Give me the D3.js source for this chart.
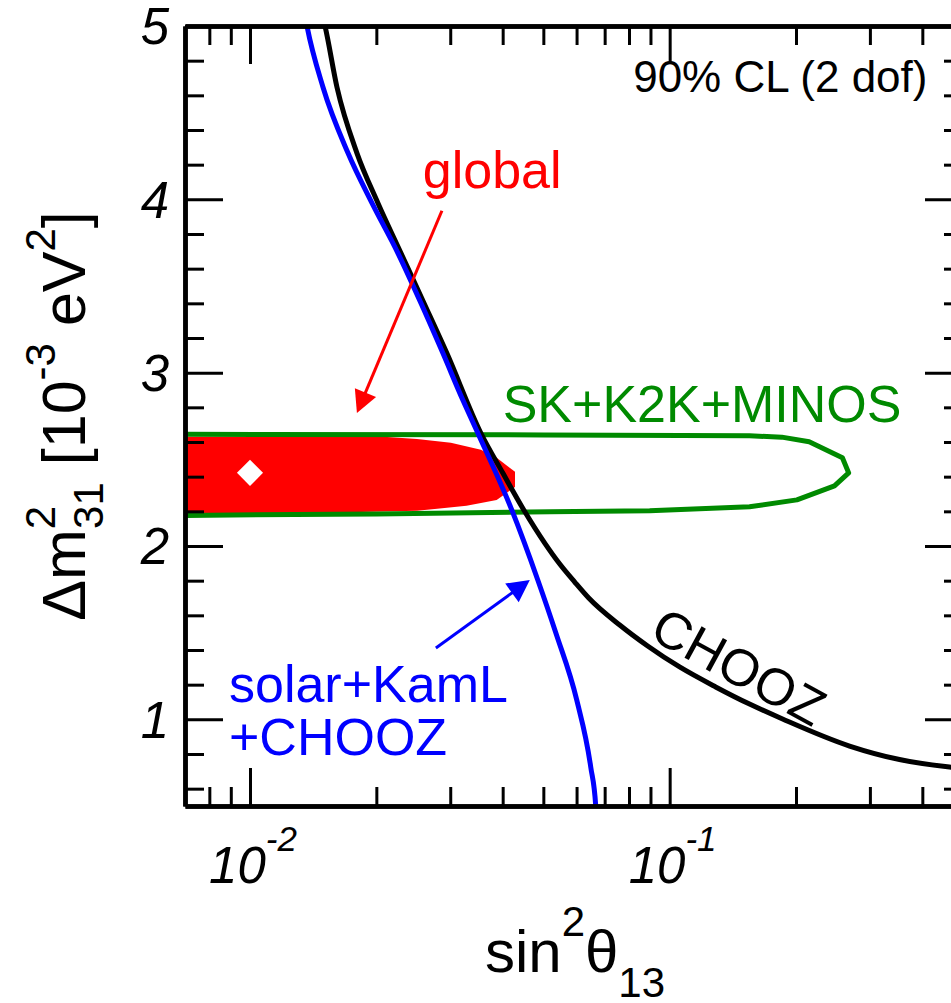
<!DOCTYPE html>
<html><head><meta charset="utf-8">
<script src="https://cdn.jsdelivr.net/npm/d3@7"></script>
<style>body{margin:0;background:#fff}svg{display:block}</style>
</head><body>
<svg id="c" width="951" height="1003"></svg>
<script>
// ---- data (sin^2 theta13, dm^2_31 [1e-3 eV^2]) ----
const xMajorTicks = [0.01, 0.1];
const xMajorLabels = ["-2", "-1"];
const xMinorTicks = [0.008,0.009,0.02,0.03,0.04,0.05,0.06,0.07,0.08,0.09,0.2,0.3,0.4];
const yMajorTicks = [1,2,3,4,5];
const yMinorTicks = [0.6,0.8,1.2,1.4,1.6,1.8,2.2,2.4,2.6,2.8,3.2,3.4,3.6,3.8,4.2,4.4,4.6,4.8];

const globalRegion = [[0.005,2.630],[0.0208,2.630],[0.0250,2.618],[0.0301,2.595],[0.0355,2.555],
  [0.0387,2.509],[0.0428,2.428],[0.0428,2.341],[0.0387,2.266],[0.0328,2.232],[0.0250,2.203],
  [0.0144,2.191],[0.005,2.191]];
const bestFit = [[0.0100,2.422]];
const skContour = [[0.005,2.645],[0.050,2.641],[0.155,2.636],[0.185,2.628],[0.215,2.601],[0.258,2.509],
  [0.267,2.422],[0.247,2.347],[0.201,2.266],[0.155,2.226],[0.0896,2.203],[0.0518,2.197],
  [0.020,2.185],[0.005,2.174]];
const choozCurve = [[0.01476,5.092],[0.01509,5.0],[0.01611,4.648],[0.01798,4.267],[0.02017,3.979],
  [0.02289,3.690],[0.02597,3.402],[0.02944,3.113],[0.03548,2.652],[0.04004,2.421],[0.04492,2.208],
  [0.05039,2.017],[0.05472,1.896],[0.05940,1.792],[0.06414,1.700],[0.07603,1.544],[0.08863,1.423],
  [0.1056,1.302],[0.1287,1.187],[0.1550,1.088],[0.1858,1.002],[0.2683,0.846],[0.3529,0.768],
  [0.4642,0.725],[0.5322,0.713]];
const solarCurve = [[0.01345,5.092],[0.01367,5.0],[0.01492,4.648],[0.01712,4.267],[0.01952,3.979],
  [0.02251,3.690],[0.02554,3.402],[0.02881,3.113],[0.03215,2.842],[0.03490,2.652],[0.04205,2.208],
  [0.04850,1.804],[0.05356,1.498],[0.06005,1.112],[0.06485,0.725],[0.06665,0.5],[0.06702,0.362]];
const redArrow = [[0.02866,3.934],[0.01798,2.768]];
const blueArrow = [[0.02773,1.412],[0.04642,1.804]];

const FONT = "'Liberation Sans', Arial, Helvetica, sans-serif";
const svg = d3.select("#c");
const x = d3.scaleLog().domain([0.007,0.5]).range([185,963]);
const y = d3.scaleLinear().domain([0.5,5]).range([806,26]);

svg.append("defs").append("clipPath").attr("id","clip")
  .append("rect").attr("x",185).attr("y",26).attr("width",778).attr("height",780);

const plot = svg.append("g").attr("clip-path","url(#clip)");

// global region (red)
plot.append("path").datum(globalRegion)
  .attr("d", d3.line().x(d=>x(d[0])).y(d=>y(d[1])).curve(d3.curveLinearClosed))
  .attr("fill","#ff0000").attr("stroke","none");
plot.selectAll(".bf").data(bestFit).join("path")
  .attr("transform", d=>`translate(${x(d[0])},${y(d[1])}) rotate(45)`)
  .attr("d", d3.symbol().type(d3.symbolSquare).size(340))
  .attr("fill","#fff");
// SK+K2K+MINOS contour
plot.append("path").datum(skContour)
  .attr("d", d3.line().x(d=>x(d[0])).y(d=>y(d[1])))
  .attr("fill","none").attr("stroke","#008a00").attr("stroke-width",5).attr("stroke-linejoin","round");
// CHOOZ and solar+KamL+CHOOZ
const smooth = d3.line().x(d=>x(d[0])).y(d=>y(d[1])).curve(d3.curveMonotoneX);
plot.append("path").datum(choozCurve).attr("d", smooth)
  .attr("fill","none").attr("stroke","#000").attr("stroke-width",5);
plot.append("path").datum(solarCurve).attr("d", smooth)
  .attr("fill","none").attr("stroke","#0000ff").attr("stroke-width",5);

// arrows
function arrow(pts, color){
  const x0=x(pts[0][0]), y0=y(pts[0][1]), x1=x(pts[1][0]), y1=y(pts[1][1]);
  const L=Math.hypot(x1-x0,y1-y0), ux=(x1-x0)/L, uy=(y1-y0)/L;
  const hl=22, hw=11.5;
  const bx=x1-ux*hl, by=y1-uy*hl;
  svg.append("line").attr("x1",x0).attr("y1",y0).attr("x2",bx+ux*2).attr("y2",by+uy*2)
    .attr("stroke",color).attr("stroke-width",3);
  svg.append("path").attr("d",`M${x1},${y1}L${bx-uy*hw},${by+ux*hw}L${bx+uy*hw},${by-ux*hw}Z`)
    .attr("fill",color);
}
arrow(redArrow,"#ff0000");
arrow(blueArrow,"#0000ff");

// axes (frame with inward ticks)
function styleAxis(g){
  g.select(".domain").attr("stroke","#000").attr("stroke-width",4.5);
  g.selectAll(".tick line").attr("stroke","#000").attr("stroke-width",3);
  g.selectAll(".tick text").remove();
}
const axes = [
  [d3.axisBottom(x), "translate(0,806)", xMajorTicks, xMinorTicks],
  [d3.axisTop(x), "translate(0,26)", xMajorTicks, xMinorTicks],
  [d3.axisLeft(y), "translate(185,0)", yMajorTicks, yMinorTicks],
  [d3.axisRight(y), "translate(963,0)", yMajorTicks, yMinorTicks]
];
axes.forEach(([ax, tr, maj, min])=>{
  svg.append("g").attr("transform",tr)
    .call(ax.tickValues(min).tickSizeInner(-19).tickSizeOuter(0).tickFormat(""))
    .call(styleAxis);
  svg.append("g").attr("transform",tr)
    .call(ax.tickValues(maj).tickSizeInner(-38).tickSizeOuter(0).tickFormat(""))
    .call(styleAxis);
});

// tick labels
svg.append("g").selectAll("text").data(yMajorTicks).join("text")
  .attr("x",169).attr("y",d=>y(d)).attr("dy","0.36em")
  .attr("text-anchor","end").attr("font-family",FONT).attr("font-style","italic")
  .attr("font-size",51).text(d=>d);
const xl = svg.append("g").selectAll("text").data(xMajorTicks).join("text")
  .attr("x",d=>x(d)+3).attr("y",883).attr("text-anchor","middle")
  .attr("font-family",FONT).attr("font-style","italic").attr("font-size",51);
xl.append("tspan").text("10");
xl.append("tspan").attr("dy",-32).attr("font-size",35).text((d,i)=>xMajorLabels[i]);

// axis titles
const xt = svg.append("text").attr("x",575).attr("y",972).attr("text-anchor","middle")
  .attr("font-family",FONT).attr("font-size",60);
xt.append("tspan").text("sin");
xt.append("tspan").attr("dy",-36).attr("font-size",42).text("2");
xt.append("tspan").attr("dy",36).text("θ");
xt.append("tspan").attr("dy",25).attr("font-size",42).text("13");

const yt = svg.append("text").attr("transform","translate(85,416) rotate(-90)")
  .attr("text-anchor","middle").attr("font-family",FONT).attr("font-size",61);
yt.append("tspan").text("Δm");
yt.append("tspan").attr("dy",-30).attr("font-size",42).text("2");
yt.append("tspan").attr("dx",-23).attr("dy",48).attr("font-size",42).text("31");
yt.append("tspan").attr("dy",-18).text(" [10");
yt.append("tspan").attr("dy",-30).attr("font-size",42).text("-3");
yt.append("tspan").attr("dy",30).text(" eV");
yt.append("tspan").attr("dy",-30).attr("font-size",42).text("2");
yt.append("tspan").attr("dy",30).text("]");

// annotations
function label(txt, v, m, color, size, anchor, rot){
  return svg.append("text")
    .attr("transform",`translate(${x(v)},${y(m)})` + (rot?` rotate(${rot})`:""))
    .attr("font-family",FONT).attr("font-size",size).attr("fill",color)
    .attr("text-anchor",anchor||"start").text(txt);
}
label("global", 0.0258, 4.067, "#ff0000", 52);
label("SK+K2K+MINOS", 0.0400, 2.716, "#008a00", 52);
label("solar+KamL", 0.00891, 1.100, "#0000ff", 52);
label("+CHOOZ", 0.00891, 0.794, "#0000ff", 52);
label("CHOOZ", 0.0887, 1.47, "#000", 52, "start", 28.5);
label("90% CL (2 dof)", 0.4114, 4.621, "#000", 44, "end");
</script>
</body></html>
